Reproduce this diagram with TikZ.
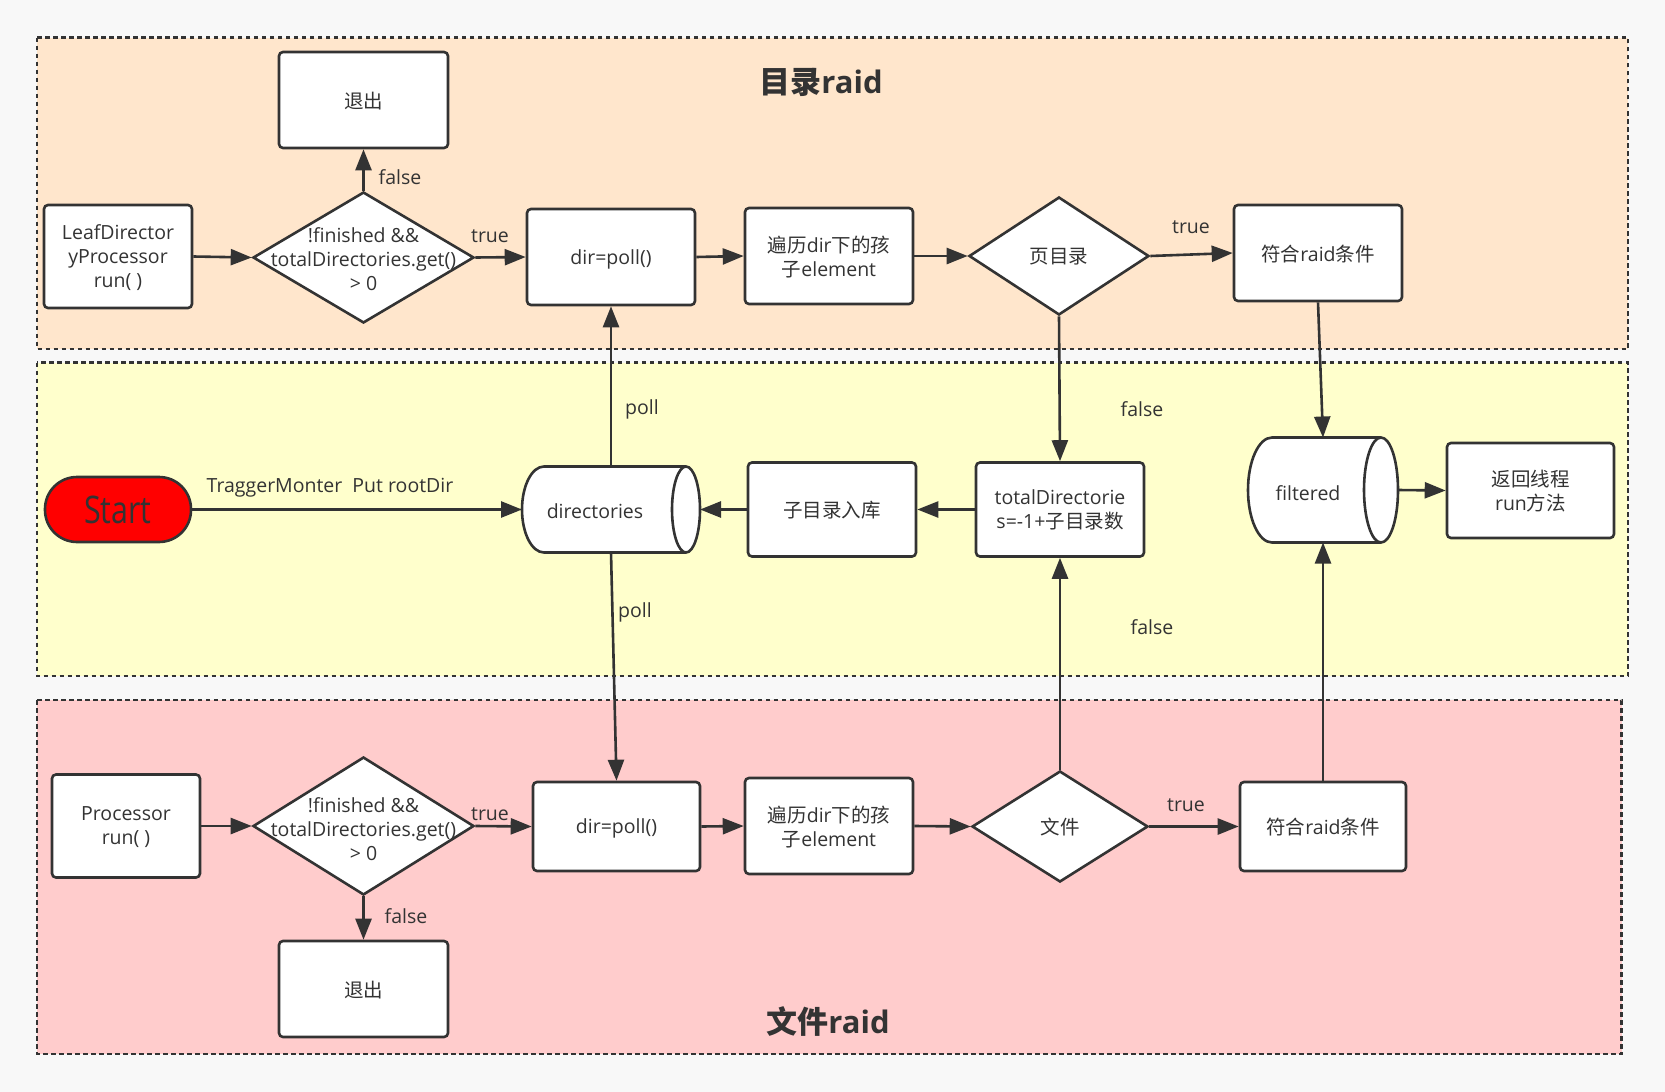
\documentclass[tikz,border=0pt]{standalone}
\usepackage{fontspec}
\setmainfont{Open Sans}
\newfontfamily\cjk{Noto Sans CJK SC}
\usetikzlibrary{arrows.meta,shapes.geometric}
\definecolor{ink}{HTML}{333333}
\definecolor{bg}{HTML}{F8F8F8}
\definecolor{peach}{HTML}{FFE6CC}
\definecolor{lemon}{HTML}{FFFFCC}
\definecolor{rose}{HTML}{FFCCCC}
\definecolor{startred}{HTML}{FF0000}

\begin{document}
\begin{tikzpicture}[x=1pt,y=-1pt,
  every node/.style={font=\fontsize{19.5}{24}\selectfont, text=ink},
  panel/.style={draw=ink, line width=2.2pt, dash pattern=on 4.5pt off 3.5pt},
  box/.style={draw=ink, fill=white, line width=2.6pt, rounded corners=4pt,
    align=center, inner sep=0pt, text depth=0pt},
  dia/.style={diamond, draw=ink, fill=white, line width=2.6pt, inner sep=0pt, text depth=0pt},
  cylbase/.style={draw=none, inner sep=0pt, outer sep=0pt},
  cylline/.style={draw=ink, fill=white, line width=2.6pt},
  lbl/.style={inner sep=0pt},
  ttl/.style={font=\fontsize{31}{36}\selectfont\bfseries},
  flow/.style={draw=ink, line width=2.6pt, -{Triangle[length=21pt,width=16pt]}}
]
\useasboundingbox (0,0) rectangle (1665,1092);
\fill[bg] (0,0) rectangle (1665,1092);

% swim lanes
\filldraw[panel, fill=peach] (37,37.5) rectangle (1628,349);
\filldraw[panel, fill=lemon] (37,362.5) rectangle (1628,676);
\filldraw[panel, fill=rose] (37,700) rectangle (1621.5,1054);

\node[ttl] (title1) at (821,82) {{\cjk 目录}raid};
\node[ttl] (title2) at (828,1021) {{\cjk 文件}raid};

% directory lane
\node[box, minimum width=148, minimum height=103] (leaf) at (118,256.5) {LeafDirector\\yProcessor\\run( )};
\node[dia, minimum width=221, minimum height=131] (c1) at (363.5,257.5) {};
\node[lbl, align=center] (c1t) at (363.5,259) {!finished \&\&\\totalDirectories.get()\\> 0};
\node[box, minimum width=169, minimum height=96] (quit1) at (363.5,100) {{\cjk 退出}};
\node[box, minimum width=168, minimum height=96] (poll1) at (611,257) {dir=poll()};
\node[box, minimum width=168, minimum height=96] (walk1) at (829,256) {{\cjk 遍历}dir{\cjk 下的孩}\\{\cjk 子}element};
\node[dia, minimum width=180, minimum height=118] (isdir) at (1059,256) {{\cjk 页目录}};
\node[box, minimum width=168, minimum height=96] (ok1) at (1318,253) {{\cjk 符合}raid{\cjk 条件}};

% queue lane
\node[box, fill=startred, rounded corners=32pt, minimum width=146, minimum height=65] (start) at (118,509.5)
  {\scalebox{0.8}[1]{\fontsize{38}{44}\selectfont Start}};

\node[cylbase, minimum width=178, minimum height=86] (dirs) at (611,509.5) {};
\path[cylline] ([xshift=-14pt]dirs.north east) -- ([xshift=22pt]dirs.north west)
  arc[start angle=90, end angle=270, x radius=22pt, y radius=43pt]
  -- ([xshift=-14pt]dirs.south east)
  arc[start angle=270, end angle=450, x radius=14pt, y radius=43pt] -- cycle;
\draw[cylline, fill=none] ([xshift=-14pt]dirs.north east)
  arc[start angle=90, end angle=270, x radius=14pt, y radius=43pt];
\node[lbl] (dirst) at ([xshift=-16pt,yshift=-2pt]dirs.center) {directories};

\node[box, minimum width=168, minimum height=94] (push) at (832,509.5) {{\cjk 子目录入库}};
\node[box, minimum width=168, minimum height=94] (total) at (1060,509.5) {totalDirectorie\\s=-1+{\cjk 子目录数}};

\node[cylbase, minimum width=150, minimum height=105] (filt) at (1323,490) {};
\path[cylline] ([xshift=-17pt]filt.north east) -- ([xshift=24pt]filt.north west)
  arc[start angle=90, end angle=270, x radius=24pt, y radius=52.5pt]
  -- ([xshift=-17pt]filt.south east)
  arc[start angle=270, end angle=450, x radius=17pt, y radius=52.5pt] -- cycle;
\draw[cylline, fill=none] ([xshift=-17pt]filt.north east)
  arc[start angle=90, end angle=270, x radius=17pt, y radius=52.5pt];
\node[lbl] (filtt) at ([xshift=-15pt,yshift=-3pt]filt.center) {filtered};

\node[box, minimum width=167, minimum height=95] (back) at (1530.5,490.5) {{\cjk 返回线程}\\run{\cjk 方法}};

% file lane
\node[box, minimum width=148, minimum height=103] (proc) at (126,826) {Processor\\run( )};
\node[dia, minimum width=221, minimum height=138] (c2) at (363.5,826) {};
\node[lbl, align=center] (c2t) at (363.5,829) {!finished \&\&\\totalDirectories.get()\\> 0};
\node[box, minimum width=169, minimum height=96] (quit2) at (363.5,989) {{\cjk 退出}};
\node[box, minimum width=167, minimum height=89] (poll2) at (616.5,826.5) {dir=poll()};
\node[box, minimum width=168, minimum height=96] (walk2) at (829,826) {{\cjk 遍历}dir{\cjk 下的孩}\\{\cjk 子}element};
\node[dia, minimum width=176, minimum height=111] (isfile) at (1060,826.5) {{\cjk 文件}};
\node[box, minimum width=166, minimum height=89] (ok2) at (1323,826.5) {{\cjk 符合}raid{\cjk 条件}};

% connectors
\draw[flow] (leaf.east) -- (c1.west);
\draw[flow] (c1.north) -- (quit1.south);
\draw[flow] (c1.east) -- (poll1.west);
\draw[flow] (poll1.east) -- (walk1.west);
\draw[flow] (walk1.east) -- (isdir.west);
\draw[flow] (isdir.east) -- (ok1.west);
\draw[flow] (isdir.south) -- (total.north);
\draw[flow] (ok1.south) -- (filt.north);
\draw[flow] (start.east) -- (dirs.west);
\draw[flow] (dirs.north) -- (poll1.south);
\draw[flow] (dirs.south) -- (poll2.north);
\draw[flow] (total.west) -- (push.east);
\draw[flow] (push.west) -- (dirs.east);
\draw[flow] (filt.east) -- (back.west);
\draw[flow] (proc.east) -- (c2.west);
\draw[flow] (c2.south) -- (quit2.north);
\draw[flow] (c2.east) -- (poll2.west);
\draw[flow] (poll2.east) -- (walk2.west);
\draw[flow] (walk2.east) -- (isfile.west);
\draw[flow] (isfile.east) -- (ok2.west);
\draw[flow] (isfile.north) -- (total.south);
\draw[flow] (ok2.north) -- (filt.south);

% connector labels
\node[lbl] (lf1) at (400,177) {false};
\node[lbl] (lt1) at (490,236) {true};
\node[lbl] (lput) at (330,487.5) {TraggerMonter~~Put rootDir};
\node[lbl] (lp1) at (642,409) {poll};
\node[lbl] (lp2) at (635,612) {poll};
\node[lbl] (lf2) at (1142,409) {false};
\node[lbl] (lt2) at (1191,227.5) {true};
\node[lbl] (lf3) at (1152,627) {false};
\node[lbl] (lt3) at (490,814) {true};
\node[lbl] (lf4) at (406,916) {false};
\node[lbl] (lt4) at (1186,805) {true};
\end{tikzpicture}
\end{document}
